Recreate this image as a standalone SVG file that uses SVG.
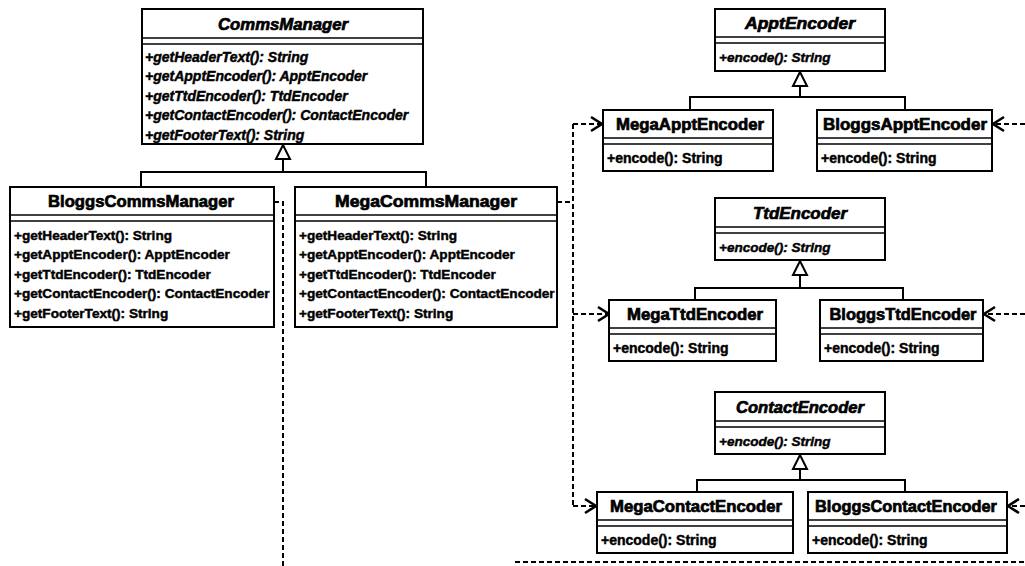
<svg xmlns="http://www.w3.org/2000/svg" width="1025" height="566" viewBox="0 0 1025 566">
<style>
.box{fill:#fff;stroke:#000;stroke-width:2}
.sep{stroke:#000;stroke-width:1.5}
.tx{font-family:"Liberation Sans",Arial,sans-serif;font-weight:bold;fill:#000;stroke:#000;stroke-width:0.45}
.ttl{font-size:16.5px;text-anchor:middle;stroke-width:0.7}
.m{font-size:13.6px}
.mi{font-size:14px;font-style:italic}
.me{font-size:14px}
.mei{font-size:13.5px;font-style:italic}
.it{font-style:italic}
.gen{fill:none;stroke:#000;stroke-width:2}
.dep{fill:none;stroke:#000;stroke-width:2;stroke-dasharray:5 3}
</style>
<defs>
<marker id="tri" markerUnits="userSpaceOnUse" markerWidth="18" markerHeight="18" refX="15" refY="8" orient="auto" viewBox="0 0 18 16">
<path d="M1,1 L15,8 L1,15 Z" fill="#fff" stroke="#000" stroke-width="2" stroke-dasharray="none"/>
</marker>
<marker id="open" markerUnits="userSpaceOnUse" markerWidth="16" markerHeight="18" refX="12" refY="8" orient="auto" viewBox="0 0 16 16">
<path d="M1,1 L12,8 L1,15" fill="none" stroke="#000" stroke-width="2.6" stroke-dasharray="none"/>
</marker>
</defs>

<g id="connectors">
<path class="gen" d="M141,187 V172 H426 V187"/>
<path class="gen" d="M283,172 V145" marker-end="url(#tri)"/>
<path class="gen" d="M690,110 V97 H905 V110"/>
<path class="gen" d="M800,97 V72" marker-end="url(#tri)"/>
<path class="gen" d="M695,300 V288 H903 V300"/>
<path class="gen" d="M800,288 V261" marker-end="url(#tri)"/>
<path class="gen" d="M697,492 V480 H905 V492"/>
<path class="gen" d="M800,480 V455" marker-end="url(#tri)"/>
<path class="dep" d="M557,202 H573"/>
<path class="dep" d="M573,124 V506"/>
<path class="dep" d="M573,124 H602" marker-end="url(#open)"/>
<path class="dep" d="M573,314 H609" marker-end="url(#open)"/>
<path class="dep" d="M573,506 H596" marker-end="url(#open)"/>
<path class="dep" d="M274,202 H283 V566"/>
<path class="dep" d="M515,562 H1025"/>
<path class="dep" d="M1025,124 H993" marker-end="url(#open)"/>
<path class="dep" d="M1025,314 H984" marker-end="url(#open)"/>
<path class="dep" d="M1025,506 H1008" marker-end="url(#open)"/>
</g>

<g id="CommsManager">
<rect class="box" x="142" y="9" width="281" height="135"/>
<line class="sep" x1="142" y1="38" x2="423" y2="38"/>
<line class="sep" x1="142" y1="44" x2="423" y2="44"/>
<text class="tx ttl it" x="283" y="29.5" textLength="130" lengthAdjust="spacingAndGlyphs">CommsManager</text>
<text class="tx mi" x="145" y="61.5">+getHeaderText(): String</text>
<text class="tx mi" x="145" y="81">+getApptEncoder(): ApptEncoder</text>
<text class="tx mi" x="145" y="100.5">+getTtdEncoder(): TtdEncoder</text>
<text class="tx mi" x="145" y="120">+getContactEncoder(): ContactEncoder</text>
<text class="tx mi" x="145" y="139.5">+getFooterText(): String</text>
</g>

<g id="BloggsCommsManager">
<rect class="box" x="10" y="187" width="264" height="140"/>
<line class="sep" x1="10" y1="215" x2="274" y2="215"/>
<line class="sep" x1="10" y1="221" x2="274" y2="221"/>
<text class="tx ttl" x="141" y="207" textLength="186" lengthAdjust="spacingAndGlyphs">BloggsCommsManager</text>
<text class="tx m" x="14" y="239.5">+getHeaderText(): String</text>
<text class="tx m" x="14" y="259">+getApptEncoder(): ApptEncoder</text>
<text class="tx m" x="14" y="278.5">+getTtdEncoder(): TtdEncoder</text>
<text class="tx m" x="14" y="298">+getContactEncoder(): ContactEncoder</text>
<text class="tx m" x="14" y="317.5">+getFooterText(): String</text>
</g>

<g id="MegaCommsManager">
<rect class="box" x="295" y="187" width="262" height="140"/>
<line class="sep" x1="295" y1="215" x2="557" y2="215"/>
<line class="sep" x1="295" y1="221" x2="557" y2="221"/>
<text class="tx ttl" x="426" y="207" textLength="182" lengthAdjust="spacingAndGlyphs">MegaCommsManager</text>
<text class="tx m" x="299" y="239.5">+getHeaderText(): String</text>
<text class="tx m" x="299" y="259">+getApptEncoder(): ApptEncoder</text>
<text class="tx m" x="299" y="278.5">+getTtdEncoder(): TtdEncoder</text>
<text class="tx m" x="299" y="298">+getContactEncoder(): ContactEncoder</text>
<text class="tx m" x="299" y="317.5">+getFooterText(): String</text>
</g>

<g id="ApptEncoder">
<rect class="box" x="715" y="9" width="170" height="62"/>
<line class="sep" x1="715" y1="37" x2="885" y2="37"/>
<line class="sep" x1="715" y1="43" x2="885" y2="43"/>
<text class="tx ttl it" x="800" y="28.5" textLength="110" lengthAdjust="spacingAndGlyphs">ApptEncoder</text>
<text class="tx mei" x="719" y="62">+encode(): String</text>
</g>

<g id="MegaApptEncoder">
<rect class="box" x="603" y="110" width="170" height="61"/>
<line class="sep" x1="603" y1="138" x2="773" y2="138"/>
<line class="sep" x1="603" y1="144" x2="773" y2="144"/>
<text class="tx ttl" x="690" y="129.5" textLength="148" lengthAdjust="spacingAndGlyphs">MegaApptEncoder</text>
<text class="tx me" x="607" y="162.5">+encode(): String</text>
</g>

<g id="BloggsApptEncoder">
<rect class="box" x="817" y="110" width="175" height="61"/>
<line class="sep" x1="817" y1="138" x2="992" y2="138"/>
<line class="sep" x1="817" y1="144" x2="992" y2="144"/>
<text class="tx ttl" x="905" y="129.5" textLength="164" lengthAdjust="spacingAndGlyphs">BloggsApptEncoder</text>
<text class="tx me" x="821" y="162.5">+encode(): String</text>
</g>

<g id="TtdEncoder">
<rect class="box" x="715" y="198" width="170" height="62"/>
<line class="sep" x1="715" y1="227" x2="885" y2="227"/>
<line class="sep" x1="715" y1="233" x2="885" y2="233"/>
<text class="tx ttl it" x="800" y="218.5" textLength="94" lengthAdjust="spacingAndGlyphs">TtdEncoder</text>
<text class="tx mei" x="719" y="252">+encode(): String</text>
</g>

<g id="MegaTtdEncoder">
<rect class="box" x="609" y="300" width="167" height="61"/>
<line class="sep" x1="609" y1="328" x2="776" y2="328"/>
<line class="sep" x1="609" y1="334" x2="776" y2="334"/>
<text class="tx ttl" x="695" y="319.5" textLength="136" lengthAdjust="spacingAndGlyphs">MegaTtdEncoder</text>
<text class="tx me" x="613" y="352.5">+encode(): String</text>
</g>

<g id="BloggsTtdEncoder">
<rect class="box" x="820" y="300" width="163" height="61"/>
<line class="sep" x1="820" y1="328" x2="983" y2="328"/>
<line class="sep" x1="820" y1="334" x2="983" y2="334"/>
<text class="tx ttl" x="903" y="319.5" textLength="147" lengthAdjust="spacingAndGlyphs">BloggsTtdEncoder</text>
<text class="tx me" x="824" y="352.5">+encode(): String</text>
</g>

<g id="ContactEncoder">
<rect class="box" x="715" y="392" width="170" height="62"/>
<line class="sep" x1="715" y1="421" x2="885" y2="421"/>
<line class="sep" x1="715" y1="427" x2="885" y2="427"/>
<text class="tx ttl it" x="800" y="412.5" textLength="128" lengthAdjust="spacingAndGlyphs">ContactEncoder</text>
<text class="tx mei" x="719" y="446">+encode(): String</text>
</g>

<g id="MegaContactEncoder">
<rect class="box" x="597" y="492" width="196" height="61"/>
<line class="sep" x1="597" y1="520" x2="793" y2="520"/>
<line class="sep" x1="597" y1="526" x2="793" y2="526"/>
<text class="tx ttl" x="696" y="511.5" textLength="172" lengthAdjust="spacingAndGlyphs">MegaContactEncoder</text>
<text class="tx me" x="601" y="544.5">+encode(): String</text>
</g>

<g id="BloggsContactEncoder">
<rect class="box" x="808" y="492" width="199" height="61"/>
<line class="sep" x1="808" y1="520" x2="1007" y2="520"/>
<line class="sep" x1="808" y1="526" x2="1007" y2="526"/>
<text class="tx ttl" x="906" y="511.5" textLength="182" lengthAdjust="spacingAndGlyphs">BloggsContactEncoder</text>
<text class="tx me" x="812" y="544.5">+encode(): String</text>
</g>
</svg>
